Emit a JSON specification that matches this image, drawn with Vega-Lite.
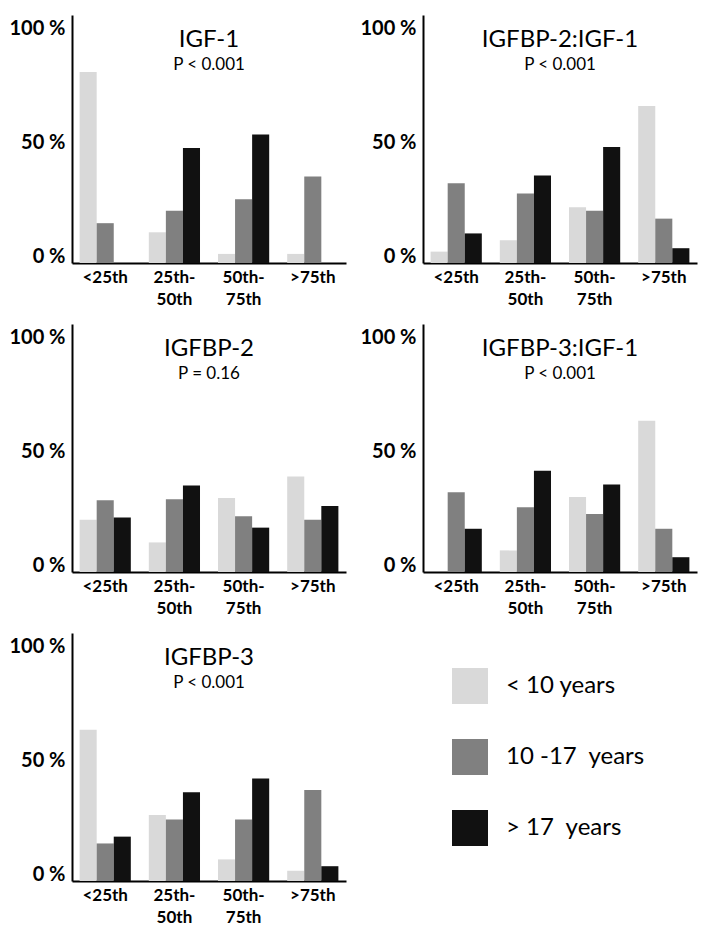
{
  "$schema": "https://vega.github.io/schema/vega-lite/v6.json",
  "background": "white",
  "padding": {"left": 8, "top": 15, "right": 5, "bottom": 5},
  "data": {"values": [
    {"panel": "IGF-1", "pct": "<25th", "group": "< 10 years", "value": 84},
    {"panel": "IGF-1", "pct": "<25th", "group": "10 -17\u00a0 years", "value": 17.5},
    {"panel": "IGF-1", "pct": "<25th", "group": ">\u00a017\u00a0 years", "value": 0},
    {"panel": "IGF-1", "pct": "25th-50th", "group": "< 10 years", "value": 13.5},
    {"panel": "IGF-1", "pct": "25th-50th", "group": "10 -17\u00a0 years", "value": 23},
    {"panel": "IGF-1", "pct": "25th-50th", "group": ">\u00a017\u00a0 years", "value": 50.5},
    {"panel": "IGF-1", "pct": "50th-75th", "group": "< 10 years", "value": 4},
    {"panel": "IGF-1", "pct": "50th-75th", "group": "10 -17\u00a0 years", "value": 28},
    {"panel": "IGF-1", "pct": "50th-75th", "group": ">\u00a017\u00a0 years", "value": 56.5},
    {"panel": "IGF-1", "pct": ">75th", "group": "< 10 years", "value": 4},
    {"panel": "IGF-1", "pct": ">75th", "group": "10 -17\u00a0 years", "value": 38},
    {"panel": "IGF-1", "pct": ">75th", "group": ">\u00a017\u00a0 years", "value": 0},

    {"panel": "IGFBP-2:IGF-1", "pct": "<25th", "group": "< 10 years", "value": 5},
    {"panel": "IGFBP-2:IGF-1", "pct": "<25th", "group": "10 -17\u00a0 years", "value": 35},
    {"panel": "IGFBP-2:IGF-1", "pct": "<25th", "group": ">\u00a017\u00a0 years", "value": 13},
    {"panel": "IGFBP-2:IGF-1", "pct": "25th-50th", "group": "< 10 years", "value": 10},
    {"panel": "IGFBP-2:IGF-1", "pct": "25th-50th", "group": "10 -17\u00a0 years", "value": 30.5},
    {"panel": "IGFBP-2:IGF-1", "pct": "25th-50th", "group": ">\u00a017\u00a0 years", "value": 38.5},
    {"panel": "IGFBP-2:IGF-1", "pct": "50th-75th", "group": "< 10 years", "value": 24.5},
    {"panel": "IGFBP-2:IGF-1", "pct": "50th-75th", "group": "10 -17\u00a0 years", "value": 23},
    {"panel": "IGFBP-2:IGF-1", "pct": "50th-75th", "group": ">\u00a017\u00a0 years", "value": 51},
    {"panel": "IGFBP-2:IGF-1", "pct": ">75th", "group": "< 10 years", "value": 69},
    {"panel": "IGFBP-2:IGF-1", "pct": ">75th", "group": "10 -17\u00a0 years", "value": 19.5},
    {"panel": "IGFBP-2:IGF-1", "pct": ">75th", "group": ">\u00a017\u00a0 years", "value": 6.5},

    {"panel": "IGFBP-2", "pct": "<25th", "group": "< 10 years", "value": 23},
    {"panel": "IGFBP-2", "pct": "<25th", "group": "10 -17\u00a0 years", "value": 31.5},
    {"panel": "IGFBP-2", "pct": "<25th", "group": ">\u00a017\u00a0 years", "value": 24},
    {"panel": "IGFBP-2", "pct": "25th-50th", "group": "< 10 years", "value": 13},
    {"panel": "IGFBP-2", "pct": "25th-50th", "group": "10 -17\u00a0 years", "value": 32},
    {"panel": "IGFBP-2", "pct": "25th-50th", "group": ">\u00a017\u00a0 years", "value": 38},
    {"panel": "IGFBP-2", "pct": "50th-75th", "group": "< 10 years", "value": 32.5},
    {"panel": "IGFBP-2", "pct": "50th-75th", "group": "10 -17\u00a0 years", "value": 24.5},
    {"panel": "IGFBP-2", "pct": "50th-75th", "group": ">\u00a017\u00a0 years", "value": 19.5},
    {"panel": "IGFBP-2", "pct": ">75th", "group": "< 10 years", "value": 42},
    {"panel": "IGFBP-2", "pct": ">75th", "group": "10 -17\u00a0 years", "value": 23},
    {"panel": "IGFBP-2", "pct": ">75th", "group": ">\u00a017\u00a0 years", "value": 29},

    {"panel": "IGFBP-3:IGF-1", "pct": "<25th", "group": "< 10 years", "value": 0},
    {"panel": "IGFBP-3:IGF-1", "pct": "<25th", "group": "10 -17\u00a0 years", "value": 35},
    {"panel": "IGFBP-3:IGF-1", "pct": "<25th", "group": ">\u00a017\u00a0 years", "value": 19},
    {"panel": "IGFBP-3:IGF-1", "pct": "25th-50th", "group": "< 10 years", "value": 9.5},
    {"panel": "IGFBP-3:IGF-1", "pct": "25th-50th", "group": "10 -17\u00a0 years", "value": 28.5},
    {"panel": "IGFBP-3:IGF-1", "pct": "25th-50th", "group": ">\u00a017\u00a0 years", "value": 44.5},
    {"panel": "IGFBP-3:IGF-1", "pct": "50th-75th", "group": "< 10 years", "value": 33},
    {"panel": "IGFBP-3:IGF-1", "pct": "50th-75th", "group": "10 -17\u00a0 years", "value": 25.5},
    {"panel": "IGFBP-3:IGF-1", "pct": "50th-75th", "group": ">\u00a017\u00a0 years", "value": 38.5},
    {"panel": "IGFBP-3:IGF-1", "pct": ">75th", "group": "< 10 years", "value": 66.5},
    {"panel": "IGFBP-3:IGF-1", "pct": ">75th", "group": "10 -17\u00a0 years", "value": 19},
    {"panel": "IGFBP-3:IGF-1", "pct": ">75th", "group": ">\u00a017\u00a0 years", "value": 6.5},

    {"panel": "IGFBP-3", "pct": "<25th", "group": "< 10 years", "value": 66.5},
    {"panel": "IGFBP-3", "pct": "<25th", "group": "10 -17\u00a0 years", "value": 16.5},
    {"panel": "IGFBP-3", "pct": "<25th", "group": ">\u00a017\u00a0 years", "value": 19.5},
    {"panel": "IGFBP-3", "pct": "25th-50th", "group": "< 10 years", "value": 29},
    {"panel": "IGFBP-3", "pct": "25th-50th", "group": "10 -17\u00a0 years", "value": 27},
    {"panel": "IGFBP-3", "pct": "25th-50th", "group": ">\u00a017\u00a0 years", "value": 39},
    {"panel": "IGFBP-3", "pct": "50th-75th", "group": "< 10 years", "value": 9.5},
    {"panel": "IGFBP-3", "pct": "50th-75th", "group": "10 -17\u00a0 years", "value": 27},
    {"panel": "IGFBP-3", "pct": "50th-75th", "group": ">\u00a017\u00a0 years", "value": 45},
    {"panel": "IGFBP-3", "pct": ">75th", "group": "< 10 years", "value": 4.5},
    {"panel": "IGFBP-3", "pct": ">75th", "group": "10 -17\u00a0 years", "value": 40},
    {"panel": "IGFBP-3", "pct": ">75th", "group": ">\u00a017\u00a0 years", "value": 6.5}
  ]},
  "columns": 2,
  "spacing": {"row": 16, "column": 13},
  "concat": [
    {
      "width": 274, "height": 248,
      "title": {"text": "IGF-1", "subtitle": "P < 0.001"},
      "transform": [{"filter": "datum.panel == 'IGF-1'"}],
      "mark": {"type": "bar"},
      "encoding": {
        "x": {"field": "pct", "type": "nominal", "title": null, "sort": ["<25th", "25th-50th", "50th-75th", ">75th"], "scale": {"domain": ["<25th", "25th-50th", "50th-75th", ">75th"], "paddingInner": 0.26, "paddingOuter": 0.11}, "axis": {"labelExpr": "datum.value == '25th-50th' ? ['25th-', '50th'] : datum.value == '50th-75th' ? ['50th-', '75th'] : datum.label"}},
        "xOffset": {"field": "group", "type": "nominal", "scale": {"domain": ["< 10 years", "10 -17\u00a0 years", ">\u00a017\u00a0 years"], "paddingInner": 0, "paddingOuter": 0}},
        "y": {"field": "value", "type": "quantitative", "title": null, "scale": {"domain": [0, 109], "nice": false}, "axis": {"values": [0, 50, 100], "labelExpr": "datum.value + ' %'"}},
        "color": {"field": "group", "type": "nominal", "scale": {"domain": ["< 10 years", "10 -17\u00a0 years", ">\u00a017\u00a0 years"], "range": ["#d9d9d9", "#808080", "#111111"]}, "legend": {"title": null}}
      }
    },
    {
      "width": 274, "height": 248,
      "title": {"text": "IGFBP-2:IGF-1", "subtitle": "P < 0.001"},
      "transform": [{"filter": "datum.panel == 'IGFBP-2:IGF-1'"}],
      "mark": {"type": "bar"},
      "encoding": {
        "x": {"field": "pct", "type": "nominal", "title": null, "sort": ["<25th", "25th-50th", "50th-75th", ">75th"], "scale": {"domain": ["<25th", "25th-50th", "50th-75th", ">75th"], "paddingInner": 0.26, "paddingOuter": 0.11}, "axis": {"labelExpr": "datum.value == '25th-50th' ? ['25th-', '50th'] : datum.value == '50th-75th' ? ['50th-', '75th'] : datum.label"}},
        "xOffset": {"field": "group", "type": "nominal", "scale": {"domain": ["< 10 years", "10 -17\u00a0 years", ">\u00a017\u00a0 years"], "paddingInner": 0, "paddingOuter": 0}},
        "y": {"field": "value", "type": "quantitative", "title": null, "scale": {"domain": [0, 109], "nice": false}, "axis": {"values": [0, 50, 100], "labelExpr": "datum.value + ' %'"}},
        "color": {"field": "group", "type": "nominal", "scale": {"domain": ["< 10 years", "10 -17\u00a0 years", ">\u00a017\u00a0 years"], "range": ["#d9d9d9", "#808080", "#111111"]}, "legend": {"title": null}}
      }
    },
    {
      "width": 274, "height": 248,
      "title": {"text": "IGFBP-2", "subtitle": "P = 0.16"},
      "transform": [{"filter": "datum.panel == 'IGFBP-2'"}],
      "mark": {"type": "bar"},
      "encoding": {
        "x": {"field": "pct", "type": "nominal", "title": null, "sort": ["<25th", "25th-50th", "50th-75th", ">75th"], "scale": {"domain": ["<25th", "25th-50th", "50th-75th", ">75th"], "paddingInner": 0.26, "paddingOuter": 0.11}, "axis": {"labelExpr": "datum.value == '25th-50th' ? ['25th-', '50th'] : datum.value == '50th-75th' ? ['50th-', '75th'] : datum.label"}},
        "xOffset": {"field": "group", "type": "nominal", "scale": {"domain": ["< 10 years", "10 -17\u00a0 years", ">\u00a017\u00a0 years"], "paddingInner": 0, "paddingOuter": 0}},
        "y": {"field": "value", "type": "quantitative", "title": null, "scale": {"domain": [0, 109], "nice": false}, "axis": {"values": [0, 50, 100], "labelExpr": "datum.value + ' %'"}},
        "color": {"field": "group", "type": "nominal", "scale": {"domain": ["< 10 years", "10 -17\u00a0 years", ">\u00a017\u00a0 years"], "range": ["#d9d9d9", "#808080", "#111111"]}, "legend": {"title": null}}
      }
    },
    {
      "width": 274, "height": 248,
      "title": {"text": "IGFBP-3:IGF-1", "subtitle": "P < 0.001"},
      "transform": [{"filter": "datum.panel == 'IGFBP-3:IGF-1'"}],
      "mark": {"type": "bar"},
      "encoding": {
        "x": {"field": "pct", "type": "nominal", "title": null, "sort": ["<25th", "25th-50th", "50th-75th", ">75th"], "scale": {"domain": ["<25th", "25th-50th", "50th-75th", ">75th"], "paddingInner": 0.26, "paddingOuter": 0.11}, "axis": {"labelExpr": "datum.value == '25th-50th' ? ['25th-', '50th'] : datum.value == '50th-75th' ? ['50th-', '75th'] : datum.label"}},
        "xOffset": {"field": "group", "type": "nominal", "scale": {"domain": ["< 10 years", "10 -17\u00a0 years", ">\u00a017\u00a0 years"], "paddingInner": 0, "paddingOuter": 0}},
        "y": {"field": "value", "type": "quantitative", "title": null, "scale": {"domain": [0, 109], "nice": false}, "axis": {"values": [0, 50, 100], "labelExpr": "datum.value + ' %'"}},
        "color": {"field": "group", "type": "nominal", "scale": {"domain": ["< 10 years", "10 -17\u00a0 years", ">\u00a017\u00a0 years"], "range": ["#d9d9d9", "#808080", "#111111"]}, "legend": {"title": null}}
      }
    },
    {
      "width": 274, "height": 248,
      "title": {"text": "IGFBP-3", "subtitle": "P < 0.001"},
      "transform": [{"filter": "datum.panel == 'IGFBP-3'"}],
      "mark": {"type": "bar"},
      "encoding": {
        "x": {"field": "pct", "type": "nominal", "title": null, "sort": ["<25th", "25th-50th", "50th-75th", ">75th"], "scale": {"domain": ["<25th", "25th-50th", "50th-75th", ">75th"], "paddingInner": 0.26, "paddingOuter": 0.11}, "axis": {"labelExpr": "datum.value == '25th-50th' ? ['25th-', '50th'] : datum.value == '50th-75th' ? ['50th-', '75th'] : datum.label"}},
        "xOffset": {"field": "group", "type": "nominal", "scale": {"domain": ["< 10 years", "10 -17\u00a0 years", ">\u00a017\u00a0 years"], "paddingInner": 0, "paddingOuter": 0}},
        "y": {"field": "value", "type": "quantitative", "title": null, "scale": {"domain": [0, 109], "nice": false}, "axis": {"values": [0, 50, 100], "labelExpr": "datum.value + ' %'"}},
        "color": {"field": "group", "type": "nominal", "scale": {"domain": ["< 10 years", "10 -17\u00a0 years", ">\u00a017\u00a0 years"], "range": ["#d9d9d9", "#808080", "#111111"]}, "legend": {"title": null}}
      }
    }
  ],
  "resolve": {"scale": {"color": "shared"}, "legend": {"color": "shared"}},
  "config": {
    "view": {"stroke": null},
    "font": "Lato",
    "axisX": {"domainColor": "#000000", "domainWidth": 2, "ticks": false, "grid": false, "labelFont": "Lato", "labelFontWeight": "bold", "labelFontSize": 17, "labelColor": "#000000", "labelAngle": 0, "labelPadding": 6, "labelLineHeight": 22, "labelBaseline": "top", "minExtent": 45, "maxExtent": 45},
    "axisY": {"domainColor": "#000000", "domainWidth": 2, "ticks": false, "grid": false, "labelFont": "Lato", "labelFontWeight": "bold", "labelFontSize": 20, "labelColor": "#000000", "labelPadding": 7, "labelOffset": -7, "minExtent": 60, "maxExtent": 60},
    "title": {"font": "Lato", "fontSize": 24, "fontWeight": "normal", "color": "#000000", "anchor": "middle", "frame": "group", "offset": -58, "subtitleFont": "Lato", "subtitleFontSize": 17, "subtitleColor": "#000000", "subtitlePadding": 5},
    "legend": {"orient": "none", "legendX": 380, "legendY": 653, "direction": "vertical", "symbolType": "square", "symbolSize": 1296, "symbolStrokeWidth": 0, "symbolOpacity": 1, "labelFont": "Lato", "labelFontSize": 24, "labelColor": "#000000", "labelOffset": 18, "rowPadding": 35, "padding": 0}
  }
}
